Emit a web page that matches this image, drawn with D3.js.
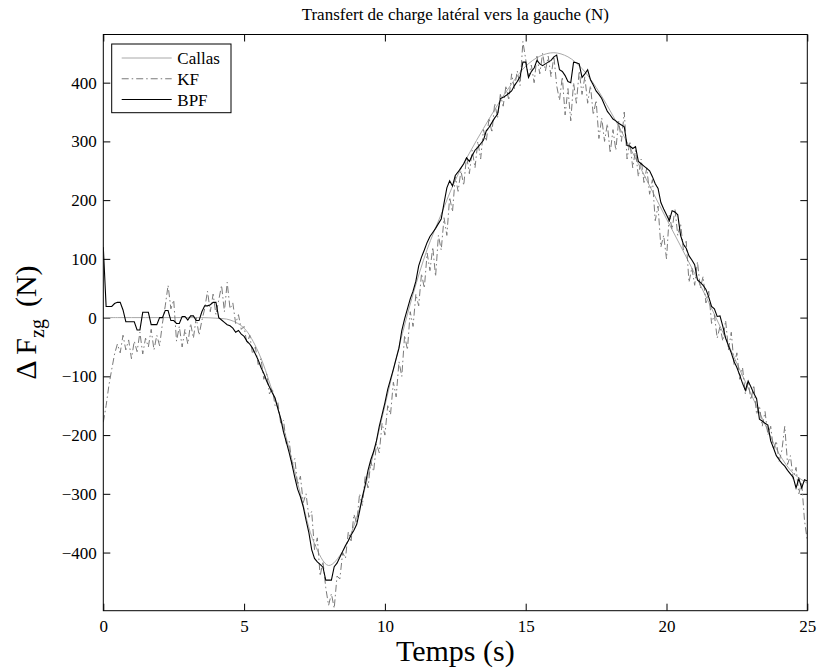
<!DOCTYPE html>
<html>
<head>
<meta charset="utf-8">
<script src="https://cdn.jsdelivr.net/npm/d3@7"></script>
<style>
body{margin:0;background:#fff;}
svg text{font-family:"Liberation Serif","Times New Roman",Times,serif !important;fill:#000;}
</style>
</head>
<body>
<svg id="chart" width="817" height="672"></svg>
<script>
// sampling step of the BPF / KF records (s)
const dt=0.1;

// Callas reference, every 0.5 s
const callasT=[0,0.5,1,1.5,2,2.5,3,3.5,4,4.5,5,5.5,6,6.5,7,7.5,8,8.5,9,9.5,10,10.5,11,11.5,12,12.5,
  13,13.5,14,14.5,15,15.5,16,16.5,17,17.5,18,18.5,19,19.5,20,20.5,21,21.5,22,22.5,23,23.5,24,24.5,25];
const callasV=[0,0,0,0,0,0,0,0,-1,-4,-18,-58,-125,-205,-300,-385,-422,-398,-340,-250,-150,-50,40,116,176,234,
  280,322,362,398,428,445,451,444,424,392,352,308,262,215,168,122,75,26,-25,-78,-130,-182,-232,-265,-282];

// BPF estimate, t = 0 .. 25 s every 0.1 s
const bpf=[120,19,19,19,24,26,26,13,-7,-7,
  -7,-7,-21,-21,9,9,9,-12,-12,-12,
  0,0,12,12,-5,-5,-10,-10,2,2,
  -4,3,3,-5,-5,10,20,20,22,26,
  26,0,-4,-8,-12,-14,-18,-25,-22,-28,
  -32,-40,-45,-52,-62,-72,-85,-95,-108,-118,
  -128,-137,-155,-172,-195,-212,-230,-250,-272,-292,
  -305,-322,-345,-366,-395,-410,-416,-420,-425,-447,
  -447,-447,-424,-418,-408,-398,-388,-380,-370,-362,
  -352,-330,-305,-285,-260,-242,-228,-210,-185,-165,
  -145,-122,-105,-88,-70,-52,-22,-2,15,32,
  45,62,88,103,115,128,138,145,152,160,
  168,195,221,233,224,242,248,255,262,272,
  266,276,285,290,296,302,318,324,332,340,
  346,373,375,378,382,386,395,402,410,435,
  435,409,419,425,438,432,429,432,435,438,
  444,447,422,419,412,402,400,435,434,432,
  409,415,422,405,396,386,380,373,362,351,
  345,338,335,331,328,325,293,292,288,291,
  266,262,258,254,250,240,228,220,196,185,
  175,165,182,180,175,140,125,118,105,98,
  90,64,60,55,48,35,19,15,2,3,
  -15,-35,-48,-60,-75,-85,-98,-112,-124,-108,
  -118,-129,-138,-173,-176,-180,-183,-210,-222,-235,
  -242,-248,-253,-260,-266,-272,-290,-274,-290,-276,
  -278];

// KF estimate, t = 0 .. 25 s every 0.1 s
const kf=[-178,-150,-115,-88,-62,-45,-60,-30,-55,-38,
  -70,-40,-58,-25,-62,-35,-50,-20,-55,-30,
  -48,-10,20,55,15,30,-40,-15,-50,-20,
  -45,-10,-35,0,-30,-5,15,45,10,40,
  5,30,55,10,60,15,25,-10,5,-20,
  -15,-45,-30,-62,-50,-80,-70,-105,-95,-130,
  -120,-150,-145,-180,-175,-215,-210,-250,-240,-285,
  -270,-315,-300,-340,-330,-395,-375,-440,-415,-460,
  -490,-470,-495,-440,-445,-400,-410,-365,-380,-335,
  -350,-300,-320,-270,-290,-245,-262,-215,-230,-180,
  -200,-150,-165,-110,-135,-75,-100,-30,-55,10,
  -15,40,20,75,50,110,80,120,70,140,
  115,170,140,205,180,240,215,250,225,275,
  245,285,255,300,270,320,300,340,315,365,
  340,380,360,395,370,415,390,420,395,470,
  440,410,430,400,445,415,450,420,445,410,
  445,395,370,410,345,390,335,400,365,420,
  380,410,365,395,345,370,305,340,300,330,
  280,320,285,335,300,350,270,300,255,285,
  240,270,230,255,210,235,165,190,120,140,
  100,175,150,185,140,160,115,130,60,85,
  55,95,50,70,25,45,-10,5,-35,-15,
  -40,-5,-55,-25,-80,-60,-105,-85,-130,-110,
  -140,-115,-165,-150,-185,-160,-200,-185,-225,-210,
  -245,-225,-185,-250,-235,-275,-255,-300,-280,-345,
  -380];

const xTicks=[0,5,10,15,20,25];
const yTicks=[-400,-300,-200,-100,0,100,200,300,400];
const legendNames=["Callas","KF","BPF"];

const serif='"Liberation Serif","Times New Roman",Times,serif';
const svg=d3.select("#chart");
const L=103.3,R=807.3,T=34.5,B=610.7,tk=7;

const x=d3.scaleLinear().domain([0,25]).range([L,R]);
const y=d3.scaleLinear().domain([-499,482]).range([B,T]);

svg.append("rect").attr("width",817).attr("height",672).attr("fill","#fff");

svg.append("clipPath").attr("id","clip")
  .append("rect").attr("x",L).attr("y",T).attr("width",R-L).attr("height",B-T);

// axes, MATLAB style: ticks inside on all four sides
svg.append("g").attr("transform",`translate(0,${B})`)
  .call(d3.axisBottom(x).tickValues(xTicks).tickSizeInner(-tk).tickSizeOuter(0).tickPadding(9))
  .call(g=>g.select(".domain").remove());
svg.append("g").attr("transform",`translate(0,${T})`)
  .call(d3.axisTop(x).tickValues(xTicks).tickSizeInner(-tk).tickSizeOuter(0).tickFormat(""))
  .call(g=>g.select(".domain").remove());
svg.append("g").attr("transform",`translate(${L},0)`)
  .call(d3.axisLeft(y).tickValues(yTicks).tickSizeInner(-tk).tickSizeOuter(0).tickPadding(6.5)
    .tickFormat(d=>d<0?"\u2212"+Math.abs(d):d))
  .call(g=>g.select(".domain").remove());
svg.append("g").attr("transform",`translate(${R},0)`)
  .call(d3.axisRight(y).tickValues(yTicks).tickSizeInner(-tk).tickSizeOuter(0).tickFormat(""))
  .call(g=>g.select(".domain").remove());

svg.selectAll("g").attr("font-family",serif);
svg.selectAll(".tick text").attr("font-size",17).style("font-family",serif).attr("fill","#000");
svg.selectAll(".tick line").attr("stroke","#000");

const plot=svg.append("g").attr("clip-path","url(#clip)");

const callasLine=d3.line().x((d,i)=>x(callasT[i])).y(d=>y(d)).curve(d3.curveCatmullRom);
const sampled=d3.line().x((d,i)=>x(i*dt)).y(d=>y(d));

plot.append("path").datum(callasV).attr("d",callasLine)
  .attr("fill","none").attr("stroke","#a8a8a8").attr("stroke-width",1);
plot.append("path").datum(kf).attr("d",sampled)
  .attr("fill","none").attr("stroke","#7a7a7a").attr("stroke-width",1)
  .attr("stroke-dasharray","7,3,1.5,3");
plot.append("path").datum(bpf).attr("d",sampled)
  .attr("fill","none").attr("stroke","#000").attr("stroke-width",1.1);

// frame
svg.append("rect").attr("x",L).attr("y",T).attr("width",R-L).attr("height",B-T)
  .attr("fill","none").attr("stroke","#000").attr("stroke-width",1);

// title and labels
svg.append("text").attr("x",(L+R)/2).attr("y",20).attr("text-anchor","middle")
  .style("font-family",serif).attr("font-size",17).text("Transfert de charge latéral vers la gauche (N)");
svg.append("text").attr("x",(L+R)/2).attr("y",661).attr("text-anchor","middle")
  .style("font-family",serif).attr("font-size",30).text("Temps (s)");

const yl=svg.append("text").attr("transform",`translate(36,${(T+B)/2}) rotate(-90)`)
  .attr("text-anchor","middle").style("font-family",serif).attr("font-size",30);
yl.append("tspan").text("\u0394 F");
yl.append("tspan").attr("font-size",20).attr("dy",8).text("zg");
yl.append("tspan").attr("dy",-8).attr("dx",12).text("(N)");

// legend
const lg=svg.append("g");
lg.append("rect").attr("x",111.7).attr("y",44).attr("width",119.3).attr("height",68.7)
  .attr("fill","#fff").attr("stroke","#000").attr("stroke-width",1);
const legStyle=[{c:"#a8a8a8",w:1,da:null},{c:"#7a7a7a",w:1,da:"7,3,1.5,3"},{c:"#000",w:1.1,da:null}];
const ly=d3.scalePoint().domain(legendNames).range([58,99.5]);
legendNames.forEach((n,i)=>{
  lg.append("line").attr("x1",121.7).attr("x2",171.7).attr("y1",ly(n)).attr("y2",ly(n))
    .attr("stroke",legStyle[i].c).attr("stroke-width",legStyle[i].w)
    .attr("stroke-dasharray",legStyle[i].da);
  lg.append("text").attr("x",177.3).attr("y",ly(n)+6).style("font-family",serif)
    .attr("font-size",17).text(n);
});
</script>
</body>
</html>
